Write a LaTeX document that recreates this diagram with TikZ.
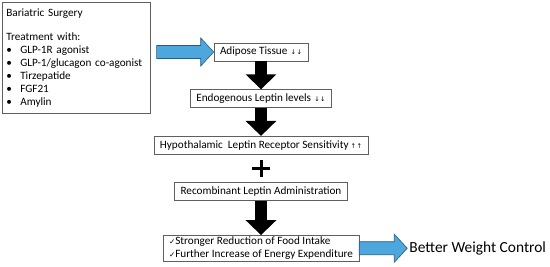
\documentclass[tikz,border=0pt]{standalone}
\usepackage{fontspec}
\setmainfont{Carlito}
\newfontfamily\symfont{DejaVu Sans}
\usetikzlibrary{positioning, arrows.meta, calc}
\definecolor{boxline}{RGB}{95,95,95}
\definecolor{arrowblue}{RGB}{78,167,220}
\definecolor{arrowedge}{RGB}{38,92,136}
\tikzset{
  stepbox/.style={
    draw=boxline, line width=0.6pt, fill=white,
    font=\fontsize{11.2}{13}\selectfont, minimum height=18pt,
    inner xsep=6pt, inner ysep=1.5pt, align=center
  },
  infobox/.style={
    stepbox, align=left, minimum width=148pt, minimum height=111pt,
    text width=140pt, inner xsep=4pt
  },
  fatarrow/.style={-{Triangle[length=15pt, width=30pt]}, line width=12pt, black},
  bluearrow/.style={draw=arrowedge, fill=arrowblue, line width=0.6pt, line join=miter}
}
\newcommand{\dn}{{\symfont\fontsize{6.5}{6.5}\selectfont\ \,↓\kern0.5pt↓}}
\newcommand{\up}{{\symfont\fontsize{6.5}{6.5}\selectfont\ ↑\kern0.5pt↑}}
\newcommand{\chk}{{\symfont\fontsize{7.5}{7.5}\selectfont ✓}}
\newcommand{\bitem}{\makebox[14pt][l]{\textbullet}}
\newcommand{\blockarrow}[2]{%
  \draw[bluearrow] ($(#1)+(0,6.5pt)$) -- ($(#2)+(-13pt,6.5pt)$) -- ($(#2)+(-13pt,14pt)$)
    -- (#2) -- ($(#2)+(-13pt,-14pt)$) -- ($(#2)+(-13pt,-6.5pt)$) -- ($(#1)+(0,-6.5pt)$) -- cycle;}
\begin{document}
\begin{tikzpicture}[node distance=28pt]
  \useasboundingbox (0,0) rectangle (550pt,-267pt);
  % treatments
  \node[infobox, anchor=north west] (treat) at (2pt,-2pt) {Bariatric Surgery\\[11pt]
    Treatment with:\\
    \bitem GLP-1R agonist\\
    \bitem GLP-1/glucagon co-agonist\\
    \bitem Tirzepatide\\
    \bitem FGF21\\
    \bitem Amylin};
  % main chain
  \node[stepbox] (adipose) at (261pt,-52pt) {Adipose Tissue\dn};
  \node[stepbox, below=of adipose] (leptin) {Endogenous Leptin levels\dn};
  \node[stepbox, below=of leptin] (hypo) {Hypothalamic\ \ Leptin Receptor Sensitivity\up};
  \node[stepbox, below=of hypo] (recomb) {Recombinant Leptin Administration};
  \node[stepbox, align=left, below=34pt of recomb] (effect) {\chk Stronger Reduction of Food Intake\\\chk Further Increase of Energy Expenditure};
  \node[font=\fontsize{15.4}{18}\selectfont, anchor=west, inner sep=2pt] (weight) at ($(effect.east)+(48pt,0)$) {Better Weight Control};

  \coordinate (src) at ([xshift=6pt]treat.east |- adipose.west);
  \blockarrow{src}{adipose.west}
  \blockarrow{effect.east}{weight.west}

  \draw[fatarrow] (adipose) -- (leptin);
  \draw[fatarrow] (leptin) -- (hypo);
  \draw[fatarrow] (recomb) -- (effect);

  % plus sign
  \coordinate (plus) at ($(hypo.south)!0.5!(recomb.north)$);
  \draw[line width=3pt] ([xshift=-9pt]plus) -- ([xshift=9pt]plus);
  \draw[line width=3pt] ([yshift=-8.5pt]plus) -- ([yshift=8.5pt]plus);
\end{tikzpicture}
\end{document}
